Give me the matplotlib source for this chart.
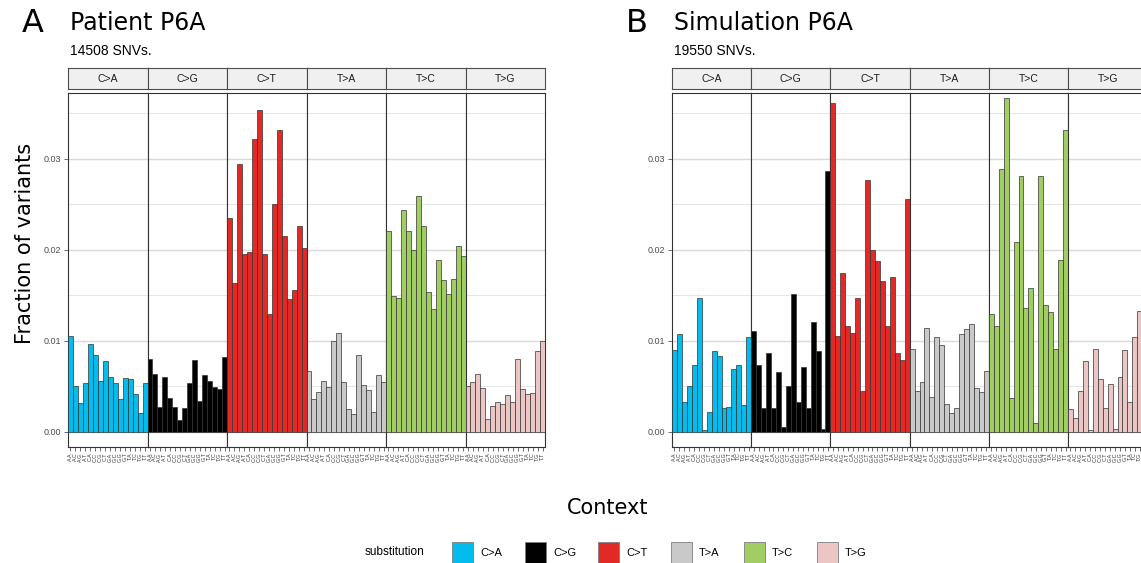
import matplotlib.pyplot as plt
from matplotlib.patches import Rectangle

# substitution classes and their usual spectrum colours
substitutions = ['C>A', 'C>G', 'C>T', 'T>A', 'T>C', 'T>G']
colors = ['#03BCEE', '#010101', '#E32926', '#CAC9C9', '#A1CE63', '#EBC6C4']
bases = ['A', 'C', 'G', 'T']
contexts = [f'{a}.{b}' for a in bases for b in bases]

# fraction of variants per trinucleotide context - patient
patient_ca = [0.0105, 0.0050, 0.0031, 0.0053, 0.0096, 0.0084, 0.0056, 0.0078,
              0.0060, 0.0053, 0.0036, 0.0059, 0.0058, 0.0041, 0.0020, 0.0053]
patient_cg = [0.0080, 0.0063, 0.0027, 0.0060, 0.0037, 0.0027, 0.0013, 0.0026,
              0.0053, 0.0079, 0.0034, 0.0062, 0.0055, 0.0049, 0.0047, 0.0082]
patient_ct = [0.0235, 0.0163, 0.0294, 0.0195, 0.0197, 0.0321, 0.0353, 0.0195,
              0.0129, 0.0250, 0.0331, 0.0215, 0.0146, 0.0156, 0.0226, 0.0202]
patient_ta = [0.0067, 0.0036, 0.0043, 0.0055, 0.0049, 0.0100, 0.0108, 0.0054,
              0.0025, 0.0019, 0.0084, 0.0051, 0.0046, 0.0022, 0.0062, 0.0054]
patient_tc = [0.0220, 0.0149, 0.0147, 0.0243, 0.0220, 0.0200, 0.0259, 0.0226,
              0.0153, 0.0135, 0.0189, 0.0166, 0.0151, 0.0168, 0.0204, 0.0193]
patient_tg = [0.0050, 0.0054, 0.0063, 0.0048, 0.0014, 0.0028, 0.0032, 0.0030,
              0.0040, 0.0032, 0.0080, 0.0047, 0.0041, 0.0042, 0.0089, 0.0099]

# fraction of variants per trinucleotide context - simulation
sim_ca = [0.0090, 0.0107, 0.0032, 0.0050, 0.0073, 0.0147, 0.0002, 0.0021,
          0.0089, 0.0083, 0.0026, 0.0027, 0.0069, 0.0073, 0.0029, 0.0104]
sim_cg = [0.0111, 0.0073, 0.0026, 0.0086, 0.0026, 0.0065, 0.0005, 0.0050,
          0.0151, 0.0032, 0.0071, 0.0026, 0.0120, 0.0088, 0.0003, 0.0286]
sim_ct = [0.0361, 0.0105, 0.0174, 0.0116, 0.0108, 0.0147, 0.0044, 0.0276,
          0.0200, 0.0187, 0.0165, 0.0116, 0.0170, 0.0086, 0.0079, 0.0256]
sim_ta = [0.0091, 0.0045, 0.0054, 0.0114, 0.0038, 0.0104, 0.0095, 0.0030,
          0.0020, 0.0026, 0.0107, 0.0113, 0.0118, 0.0048, 0.0043, 0.0066]
sim_tc = [0.0129, 0.0116, 0.0288, 0.0367, 0.0037, 0.0208, 0.0281, 0.0136,
          0.0158, 0.0009, 0.0281, 0.0139, 0.0131, 0.0091, 0.0189, 0.0331]
sim_tg = [0.0025, 0.0015, 0.0045, 0.0077, 0.0002, 0.0091, 0.0058, 0.0026,
          0.0052, 0.0003, 0.0060, 0.0090, 0.0032, 0.0104, 0.0132, 0.0125]

patient = [patient_ca, patient_cg, patient_ct, patient_ta, patient_tc, patient_tg]
simulation = [sim_ca, sim_cg, sim_ct, sim_ta, sim_tc, sim_tg]

W, H = 1141, 563
fig = plt.figure(figsize=(W / 100, H / 100), dpi=100)

ymin, ymax = -0.0017, 0.0372
panel_bottom = 1 - 447 / H
panel_height = (447 - 93) / H
strip_bottom = 1 - 89 / H
strip_height = 21 / H


def draw_panel(left_px, facet_px, data, letter, title, subtitle):
    w = facet_px / W
    left = left_px / W
    for i, (sub, vals) in enumerate(zip(substitutions, data)):
        ax = fig.add_axes([left + i * w, panel_bottom, w, panel_height])
        ax.bar(range(len(vals)), vals, width=1, color=colors[i],
               edgecolor='#333333', linewidth=0.5, zorder=3)
        ax.set_xlim(-0.5, len(vals) - 0.5)
        ax.set_ylim(ymin, ymax)
        ax.set_yticks([0, 0.01, 0.02, 0.03])
        ax.set_yticks([0.005, 0.015, 0.025, 0.035], minor=True)
        ax.set_yticklabels(['0.00', '0.01', '0.02', '0.03'])
        ax.grid(axis='y', which='major', color='#D9D9D9', linewidth=1.0, zorder=0)
        ax.grid(axis='y', which='minor', color='#E5E5E5', linewidth=0.7, zorder=0)
        ax.set_xticks(range(len(vals)))
        ax.set_xticklabels(contexts, rotation=90, fontsize=3.8,
                           color='#333333', family='Liberation Sans')
        ax.tick_params(axis='x', length=3, width=0.5, color='#333333', pad=1)
        ax.tick_params(axis='y', which='major', length=3, width=0.5,
                       color='#333333', labelsize=6.5, labelcolor='#4D4D4D', pad=2)
        ax.tick_params(axis='y', which='minor', length=0)
        for lbl in ax.get_yticklabels():
            lbl.set_family('Liberation Sans')
        if i > 0:
            ax.tick_params(axis='y', which='both', left=False, labelleft=False)
        for s in ax.spines.values():
            s.set_color('#333333')
            s.set_linewidth(0.8)

        # facet strip on top
        sax = fig.add_axes([left + i * w, strip_bottom, w, strip_height])
        sax.set_facecolor('#F0F0F0')
        sax.set_xticks([])
        sax.set_yticks([])
        for s in sax.spines.values():
            s.set_color('#4D4D4D')
            s.set_linewidth(0.8)
        sax.text(0.5, 0.5, sub, ha='center', va='center', fontsize=7.5,
                 color='#1A1A1A', family='Liberation Sans', transform=sax.transAxes)

    fig.text((left_px - 46) / W, 1 - 24 / H, letter, fontsize=23,
             ha='left', va='center')
    fig.text((left_px + 2) / W, 1 - 23 / H, title, fontsize=17,
             ha='left', va='center')
    fig.text((left_px + 2) / W, 1 - 51 / H, subtitle, fontsize=10,
             ha='left', va='center', family='Liberation Sans')


draw_panel(68, 79.5, patient, 'A', 'Patient P6A', '14508 SNVs.')
draw_panel(672, 79.2, simulation, 'B', 'Simulation P6A', '19550 SNVs.')

fig.text(25 / W, 1 - 243 / H, 'Fraction of variants', rotation=90,
         fontsize=15, ha='center', va='center')
fig.text(608 / W, 1 - 508 / H, 'Context', fontsize=15, ha='center', va='center')

# legend along the bottom
fig.text(365 / W, 1 - 552 / H, 'substitution', fontsize=8.5,
         ha='left', va='center', family='Liberation Sans')
for i, (sub, col) in enumerate(zip(substitutions, colors)):
    x0 = 452 + i * 73
    fig.add_artist(Rectangle((x0 / W, 1 - 564 / H), 21 / W, 22 / H,
                             transform=fig.transFigure, facecolor=col,
                             edgecolor='#7F7F7F', linewidth=0.6))
    fig.text((x0 + 28) / W, 1 - 553 / H, sub, fontsize=8,
             ha='left', va='center', family='Liberation Sans')

fig.savefig('out.png', dpi=100)
